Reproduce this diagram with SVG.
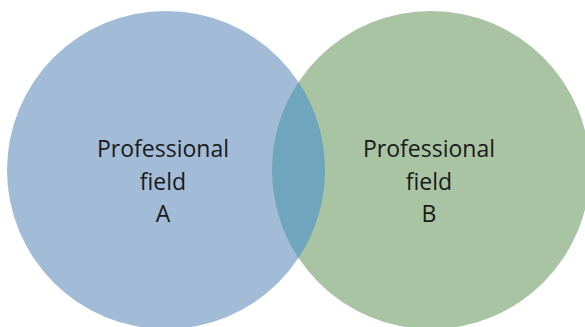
<svg xmlns="http://www.w3.org/2000/svg" width="585" height="327" viewBox="0 0 585 327">
<style>
.lbl{font-family:"Open Sans","Liberation Sans",sans-serif;font-size:23px;fill:#1a1a1a;text-anchor:middle}
</style>
<rect width="585" height="327" fill="#ffffff"/>
<g id="fieldA">
<circle cx="166" cy="170" r="159" fill="#a2bbd6"/>
</g>
<g id="fieldB">
<circle cx="431" cy="170" r="159" fill="#a9c4a3"/>
</g>
<g id="overlap">
<path d="M298.5,82.1 A159,159 0 0 1 298.5,257.9 A159,159 0 0 1 298.5,82.1 Z" fill="#6fa5bd"/>
</g>
<g id="labelA">
<text class="lbl" x="163" y="157">Professional</text>
<text class="lbl" x="163" y="189.5">field</text>
<text class="lbl" x="163" y="222">A</text>
</g>
<g id="labelB">
<text class="lbl" x="429" y="157">Professional</text>
<text class="lbl" x="429" y="189.5">field</text>
<text class="lbl" x="429" y="222">B</text>
</g>
<g id="connectors"></g>
</svg>
